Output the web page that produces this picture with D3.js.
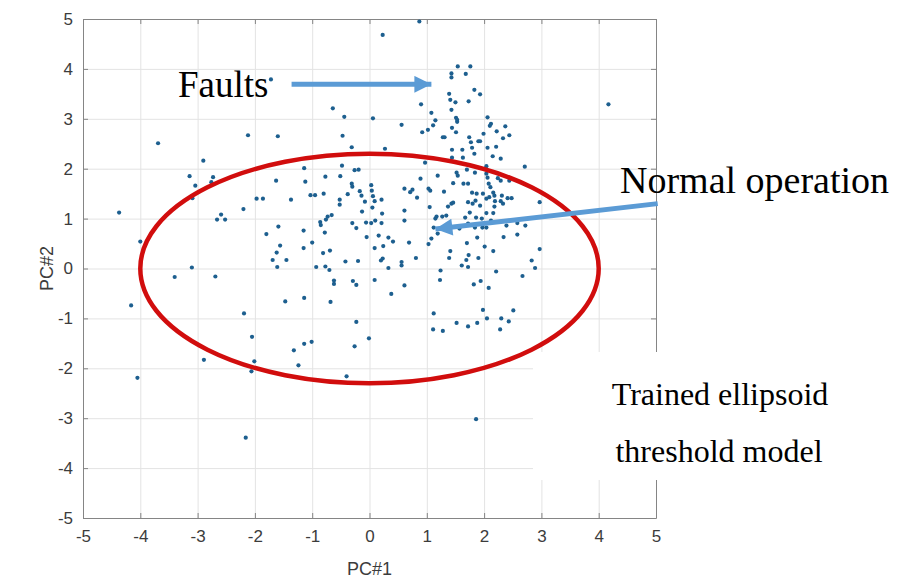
<!DOCTYPE html>
<html>
<head>
<meta charset="utf-8">
<script src="https://cdn.jsdelivr.net/npm/d3@7"></script>
<style>
  body { margin: 0; background: #fff; }
  svg { display: block; }
</style>
</head>
<body>
<div id="chart"></div>
<script>
// PCA scores (PC#1, PC#2)
var pc1 = [
  -4.37,-4.00,-3.69,-3.14,-3.09,-3.04,-2.90,-2.76,-2.73,-2.66,-2.59,-2.52,
  -2.12,-1.72,-1.60,-0.64,-0.44,-0.47,0.06,
  -0.31,0.27,-2.20,-1.97,-1.86,-1.63,-1.37,-1.80,-1.59,-1.56,-1.62,-1.69,-1.45,
  -1.14,-1.12,-1.03,-0.95,-1.15,-1.15,-1.00,
  -0.77,-0.80,-0.86,-0.85,-0.78,-0.76,-0.73,-0.66,-0.81,-0.69,
  -0.48,-0.51,-0.26,-0.19,-0.38,-0.31,-0.30,-0.52,-0.52,-0.17,-0.14,-0.08,-0.13,
  0.03,0.04,0.06,0.09,0.21,0.05,0.22,
  -0.30,-0.23,-0.06,0.03,0.10,0.21,-0.05,0.16,0.33,0.41,0.09,0.24,0.23,0.20,-0.42,-0.20,
  -1.61,-0.93,-0.77,-0.70,0.33,0.56,0.56,
  0.61,-0.62,-0.62,-0.29,-0.23,0.09,0.38,-1.47,-1.14,-0.68,-2.19,-0.23,-2.05,-0.01,
  -1.01,-1.14,-1.32,-0.26,-2.01,-2.06,-1.24,-0.40,
  -4.16,-4.05,-3.40,-3.10,-2.69,-2.89,-2.16,
  1.24,1.23,1.12,1.11,1.28,1.52,1.72,1.61,1.72,1.82,1.94,2.08,1.88,1.98,2.05,2.21,
  2.28,2.30,2.43,2.51,2.67,2.83,2.89,1.86,
  0.69,1.03,0.81,1.41,1.39,1.70,1.73,1.69,1.90,2.01,2.16,2.97,
  0.87,0.23,1.54,1.76,1.43,1.43,1.68,1.83,1.93,1.39,1.41,1.50,1.53,1.73,0.90,4.17,
  1.43,1.08,1.15,1.11,1.02,0.92,0.56,1.51,1.53,1.44,1.51,2.06,2.12,2.10,1.99,2.22,
  2.37,2.44,2.33,1.28,1.31,1.74,1.77,1.90,1.93,
  1.44,1.62,1.79,2.06,2.21,1.83,1.44,1.63,2.15,2.29,2.71,0.97,2.04,1.84,1.70,1.52,
  1.54,2.04,2.06,2.24,2.29,2.44,1.19,0.89,1.46,1.64,1.72,2.08,2.11,0.61,0.71,0.75,
  0.83,1.03,1.06,1.30,1.79,1.87,1.98,2.16,2.18,2.31,2.41,2.48,2.09,2.04,2.19,2.29,
  2.33,2.97,1.43,1.37,1.46,1.05,1.72,1.85,1.80,1.93,2.18,0.61,0.61,2.04,2.16,1.75,
  1.67,1.86,1.96,2.12,1.34,1.27,1.17,1.15,2.58,2.72,1.12,1.57,1.72,1.84,1.97,2.04,
  2.39,2.34,2.58,1.19,1.08,1.88
];
var pc2 = [
  1.12,0.54,2.51,1.85,1.41,1.66,2.16,1.73,1.83,0.98,1.08,0.98,
  2.67,3.79,2.65,3.21,3.04,2.66,3.01,
  2.43,2.40,1.19,1.40,1.40,1.76,1.38,0.69,0.84,0.46,0.32,0.17,0.17,
  2.01,1.74,1.47,1.47,0.76,0.41,0.52,
  1.84,1.50,0.93,0.87,0.72,0.98,1.04,1.07,0.31,0.36,
  2.06,1.85,1.97,1.98,1.49,1.70,1.64,1.38,1.28,1.55,1.46,1.34,1.14,
  1.67,1.56,1.45,1.35,1.38,1.22,1.10,
  0.91,0.81,0.92,0.91,0.96,0.91,0.63,0.66,0.62,0.54,0.41,0.45,0.20,0.16,0.14,0.15,
  0.03,0.03,0.04,-0.03,0.01,0.13,0.06,
  -0.34,-0.24,-0.31,-0.25,-0.33,-0.23,-0.51,-0.66,-0.59,-0.67,-0.90,-1.07,-1.37,-1.40,
  -1.47,-1.51,-1.64,-1.56,-1.86,-2.06,-1.94,-2.16,
  -0.74,-2.19,-0.17,0.02,-0.16,-1.83,-3.39,
  -0.04,-0.23,-0.90,-1.22,-1.25,-1.09,-1.16,0.06,0.03,-0.32,-0.25,-0.39,-1.09,-0.83,-1.00,-0.06,
  -1.22,-1.00,-1.06,-0.84,-0.15,0.16,0.01,-3.02,
  0.52,0.49,0.21,0.35,0.21,0.51,0.27,0.17,0.21,0.44,0.35,0.39,
  4.95,4.68,4.05,4.05,3.91,3.83,3.90,3.58,3.49,3.50,3.38,3.33,2.94,3.35,3.29,3.29,
  3.18,3.12,2.97,2.87,2.78,2.73,2.88,3.02,2.98,2.82,2.73,3.03,2.90,2.86,2.70,2.75,
  2.85,2.67,2.61,2.63,2.63,2.63,2.53,2.55,2.55,
  2.38,2.38,2.42,2.42,2.44,2.30,2.22,2.22,2.25,2.20,2.04,2.12,2.05,1.92,1.98,1.92,
  1.86,1.90,1.82,1.81,1.76,1.76,1.86,1.80,1.71,1.70,1.70,1.70,1.63,1.60,1.53,1.58,
  1.42,1.60,1.56,1.54,1.52,1.50,1.50,1.52,1.46,1.46,1.41,1.41,1.43,1.40,1.35,1.35,
  1.30,1.33,1.30,1.24,1.32,1.23,1.33,1.36,1.30,1.26,1.24,1.16,0.96,1.11,1.11,1.12,
  1.02,1.02,1.00,0.96,1.06,1.04,1.04,1.00,0.91,0.86,0.82,0.80,0.90,0.82,0.82,0.82,
  0.86,0.63,0.68,0.70,0.60,0.62
];

var xTicks = [-5,-4,-3,-2,-1,0,1,2,3,4,5];
var yTicks = [-5,-4,-3,-2,-1,0,1,2,3,4,5];

// trained ellipse: semi axes along PC#1 and PC#2
var ellipseAxes = [4.0, 2.3];

// annotation arrows in data coordinates [x0, y0, x1, y1]
var faultArrow = [-1.36, 3.69, 1.08, 3.69];
var normalArrow = [5.03, 1.30, 1.15, 0.79];

var W = 904, H = 578;
var margin = { top: 19, right: 248, bottom: 60, left: 83 };
var width = W - margin.left - margin.right,
    height = H - margin.top - margin.bottom;

var x = d3.scaleLinear().domain([-5, 5]).range([0, width]);
var y = d3.scaleLinear().domain([-5, 5]).range([height, 0]);

// plain hyphen like the original figure
var fmt = function(d) { return String(d); };

var svg = d3.select('#chart').append('svg')
    .attr('width', W)
    .attr('height', H)
    .style('background', '#fff');

var g = svg.append('g')
    .attr('transform', 'translate(' + margin.left + ',' + margin.top + ')');

// grid
g.append('g')
  .call(d3.axisBottom(x).tickValues(xTicks).tickSize(height).tickFormat(''))
  .call(function(s) { s.select('.domain').remove(); })
  .selectAll('line').attr('stroke', '#e3e3e3');
g.append('g')
  .call(d3.axisLeft(y).tickValues(yTicks).tickSize(-width).tickFormat(''))
  .call(function(s) { s.select('.domain').remove(); })
  .selectAll('line').attr('stroke', '#e3e3e3');

// axes, ticks inward
function styleAxis(s) {
  s.select('.domain').attr('stroke', '#858585');
  s.selectAll('.tick line').attr('stroke', '#858585');
  s.selectAll('text')
    .attr('fill', '#3c3c3c')
    .style('font-family', 'Liberation Sans, Arial, sans-serif')
    .style('font-size', '17px');
}
g.append('g')
  .attr('transform', 'translate(0,' + height + ')')
  .call(d3.axisBottom(x).tickValues(xTicks).tickFormat(fmt).tickSizeInner(-5).tickSizeOuter(0).tickPadding(12))
  .call(styleAxis);
g.append('g')
  .call(d3.axisLeft(y).tickValues(yTicks).tickFormat(fmt).tickSizeInner(-5).tickSizeOuter(0).tickPadding(10))
  .call(styleAxis);
g.append('g')
  .call(d3.axisTop(x).tickValues(xTicks).tickSizeInner(-5).tickSizeOuter(0).tickFormat(''))
  .call(styleAxis);
g.append('g')
  .attr('transform', 'translate(' + width + ',0)')
  .call(d3.axisRight(y).tickValues(yTicks).tickSizeInner(-5).tickSizeOuter(0).tickFormat(''))
  .call(styleAxis);

// axis titles
g.append('text')
  .attr('x', x(0))
  .attr('y', height + 57)
  .attr('text-anchor', 'middle')
  .attr('fill', '#3c3c3c')
  .style('font-family', 'Liberation Sans, Arial, sans-serif')
  .style('font-size', '18px')
  .text('PC#1');
g.append('text')
  .attr('transform', 'translate(' + (-30) + ',' + y(0) + ') rotate(-90)')
  .attr('text-anchor', 'middle')
  .attr('fill', '#3c3c3c')
  .style('font-family', 'Liberation Sans, Arial, sans-serif')
  .style('font-size', '18px')
  .text('PC#2');

// points
var pts = pc1.map(function(d, i) { return [d, pc2[i]]; });
g.selectAll('circle.pt')
  .data(pts)
  .enter().append('circle')
  .attr('class', 'pt')
  .attr('cx', function(d) { return x(d[0]); })
  .attr('cy', function(d) { return y(d[1]); })
  .attr('r', 2.1)
  .attr('fill', '#1d5f8f');

// ellipse
g.append('ellipse')
  .attr('cx', x(0))
  .attr('cy', y(0))
  .attr('rx', x(ellipseAxes[0]) - x(0))
  .attr('ry', y(0) - y(ellipseAxes[1]))
  .attr('fill', 'none')
  .attr('stroke', '#d10d0d')
  .attr('stroke-width', 4.5);

// white box behind the lower label
svg.append('rect')
  .attr('x', 533).attr('y', 352)
  .attr('width', 371).attr('height', 128)
  .attr('fill', '#fff');

// arrows
svg.append('defs').append('marker')
  .attr('id', 'head')
  .attr('viewBox', '0 0 10 10')
  .attr('refX', 10).attr('refY', 5)
  .attr('markerWidth', 3.6).attr('markerHeight', 3.4)
  .attr('markerUnits', 'strokeWidth')
  .attr('orient', 'auto')
  .append('path')
  .attr('d', 'M0,0 L10,5 L0,10 Z')
  .attr('fill', '#5b9bd5');

[faultArrow, normalArrow].forEach(function(a) {
  g.append('line')
    .attr('x1', x(a[0])).attr('y1', y(a[1]))
    .attr('x2', x(a[2])).attr('y2', y(a[3]))
    .attr('stroke', '#5b9bd5')
    .attr('stroke-width', 5)
    .attr('marker-end', 'url(#head)');
});

// labels
function serif(sel, size) {
  sel.attr('fill', '#000')
    .style('font-family', 'Liberation Serif, Times New Roman, serif')
    .style('font-size', size + 'px');
}
svg.append('text').attr('x', 178).attr('y', 97).text('Faults').call(serif, 37);
svg.append('text').attr('x', 620).attr('y', 193).text('Normal operation').call(serif, 38);
svg.append('text').attr('x', 720).attr('y', 405).attr('text-anchor', 'middle')
  .text('Trained ellipsoid').call(serif, 32);
svg.append('text').attr('x', 719).attr('y', 462).attr('text-anchor', 'middle')
  .text('threshold model').call(serif, 32);
</script>
</body>
</html>
